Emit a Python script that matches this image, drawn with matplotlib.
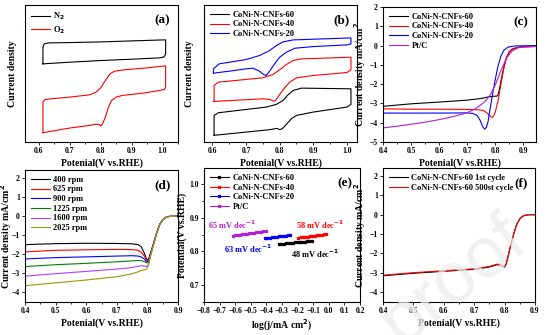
import matplotlib
matplotlib.use("Agg")
import matplotlib.pyplot as plt
from matplotlib.ticker import MultipleLocator

plt.rcParams["font.family"] = ["Liberation Serif", "DejaVu Serif"]
plt.rcParams["font.weight"] = "bold"
plt.rcParams["axes.labelweight"] = "bold"
plt.rcParams["axes.linewidth"] = 0.8

W, H = 553, 335

# ---- (a) CV in N2 / O2 (arbitrary current units) ----
a_n2_x = [0.613, 0.613, 0.617, 0.63, 0.70, 0.80, 0.90, 1.00, 1.01, 1.01, 1.005, 0.99, 0.90, 0.80, 0.70, 0.613]
a_n2_y = [2.35, 2.85, 2.95, 2.98, 2.99, 3.01, 3.04, 3.07, 3.07, 2.65, 2.56, 2.53, 2.49, 2.45, 2.40, 2.35]
a_o2_x = [0.613, 0.613, 0.62, 0.64, 0.70, 0.765, 0.785, 0.80, 0.815, 0.83, 0.845, 0.875, 0.95, 1.01,
          1.01, 1.005, 0.99, 0.945, 0.87, 0.85, 0.835, 0.825, 0.815, 0.806, 0.80, 0.795, 0.78, 0.765, 0.70, 0.613]
a_o2_y = [0.28, 1.20, 1.28, 1.30, 1.35, 1.42, 1.50, 1.63, 1.85, 2.05, 2.13, 2.17, 2.23, 2.29,
          1.63, 1.58, 1.55, 1.48, 1.40, 1.35, 1.25, 1.05, 0.75, 0.55, 0.48, 0.53, 0.53, 0.50, 0.42, 0.28]

# ---- (b) CV of the three catalysts ----
b60_x = [0.605, 0.605, 0.618, 0.76, 0.79, 0.81, 0.825, 0.84, 0.865, 1.012,
         1.012, 1.0, 0.90, 0.85, 0.835, 0.82, 0.808, 0.80, 0.792, 0.77, 0.605]
b60_y = [0.20, 0.80, 0.88, 1.05, 1.13, 1.25, 1.42, 1.55, 1.62, 1.60,
         1.13, 1.05, 0.90, 0.80, 0.70, 0.53, 0.40, 0.37, 0.41, 0.37, 0.20]
b40_x = [0.605, 0.605, 0.618, 0.75, 0.78, 0.80, 0.82, 0.84, 0.865, 1.012,
         1.012, 1.0, 0.90, 0.85, 0.83, 0.815, 0.80, 0.788, 0.782, 0.77, 0.75, 0.605]
b40_y = [1.22, 1.70, 1.80, 1.93, 2.03, 2.17, 2.33, 2.45, 2.50, 2.55,
         2.17, 2.09, 2.00, 1.93, 1.80, 1.63, 1.43, 1.25, 1.23, 1.28, 1.30, 1.22]
b20_x = [0.603, 0.603, 0.62, 0.70, 0.74, 0.77, 0.79, 0.81, 0.84, 1.012,
         1.012, 1.0, 0.90, 0.845, 0.82, 0.80, 0.785, 0.77, 0.76, 0.752, 0.74, 0.72, 0.70, 0.65, 0.603]
b20_y = [2.07, 2.20, 2.35, 2.48, 2.60, 2.75, 2.90, 3.01, 3.07, 3.13,
         2.95, 2.92, 2.87, 2.82, 2.70, 2.55, 2.35, 2.13, 2.00, 2.03, 2.13, 2.22, 2.20, 2.13, 2.07]

# ---- (c) LSV, 1600 rpm ----
c60_x = [0.40, 0.50, 0.60, 0.70, 0.75, 0.78, 0.80, 0.805, 0.81, 0.815, 0.82, 0.83, 0.84, 0.85, 0.86, 0.88, 0.90, 0.945]
c60_y = [-3.15, -3.02, -2.93, -2.83, -2.74, -2.65, -2.62, -2.63, -2.55, -2.25, -1.85, -1.15, -0.60, -0.32, -0.18, -0.09, -0.06, -0.04]
c40_x = [0.40, 0.50, 0.60, 0.70, 0.74, 0.76, 0.775, 0.785, 0.79, 0.795, 0.80, 0.81, 0.82, 0.83, 0.84, 0.85, 0.86, 0.88, 0.90, 0.945]
c40_y = [-3.28, -3.30, -3.30, -3.31, -3.33, -3.38, -3.55, -3.70, -3.72, -3.62, -3.45, -2.85, -2.00, -1.20, -0.62, -0.33, -0.20, -0.10, -0.07, -0.05]
c20_x = [0.40, 0.50, 0.60, 0.70, 0.72, 0.735, 0.745, 0.755, 0.762, 0.768, 0.775, 0.78, 0.79, 0.80, 0.81, 0.82, 0.83, 0.845, 0.87, 0.945]
c20_y = [-3.50, -3.50, -3.50, -3.49, -3.52, -3.62, -3.85, -4.20, -4.33, -4.25, -3.90, -3.40, -2.55, -1.75, -1.05, -0.55, -0.25, -0.08, -0.02, 0.0]
cpt_x = [0.40, 0.45, 0.50, 0.55, 0.60, 0.65, 0.70, 0.73, 0.76, 0.78, 0.80, 0.82, 0.84, 0.86, 0.88, 0.90, 0.945]
cpt_y = [-4.27, -4.18, -4.08, -3.97, -3.84, -3.68, -3.48, -3.27, -2.95, -2.60, -2.05, -1.30, -0.65, -0.28, -0.12, -0.07, -0.04]

# ---- (d) LSV of CoNi-N-CNFs-60 at different rotation speeds ----
d_x = [0.40, 0.50, 0.60, 0.70, 0.75, 0.77, 0.78, 0.79, 0.797, 0.803, 0.81, 0.82, 0.83, 0.84, 0.85, 0.86, 0.87, 0.88, 0.90]
d_rpm = ["400 rpm", "625 rpm", "900 rpm", "1225 rpm", "1600 rpm", "2025 rpm"]
d_y = [
    [-1.50, -1.45, -1.43, -1.44, -1.46, -1.50, -1.62, -1.95, -2.25, -2.30, -1.95, -1.45, -0.90, -0.45, -0.20, -0.08, -0.03, -0.02, -0.02],
    [-1.88, -1.80, -1.77, -1.75, -1.76, -1.80, -1.90, -2.10, -2.30, -2.35, -1.97, -1.46, -0.90, -0.45, -0.20, -0.08, -0.03, -0.02, -0.02],
    [-2.25, -2.18, -2.14, -2.10, -2.08, -2.10, -2.15, -2.25, -2.38, -2.40, -2.00, -1.47, -0.91, -0.45, -0.20, -0.08, -0.03, -0.02, -0.02],
    [-2.65, -2.55, -2.48, -2.40, -2.35, -2.33, -2.34, -2.38, -2.45, -2.45, -2.03, -1.48, -0.91, -0.45, -0.20, -0.08, -0.03, -0.02, -0.02],
    [-3.15, -3.02, -2.90, -2.78, -2.70, -2.63, -2.60, -2.62, -2.66, -2.55, -2.08, -1.50, -0.92, -0.46, -0.20, -0.08, -0.03, -0.02, -0.02],
    [-3.65, -3.50, -3.35, -3.18, -3.02, -2.92, -2.85, -2.82, -2.78, -2.62, -2.12, -1.52, -0.93, -0.46, -0.20, -0.08, -0.03, -0.02, -0.02],
]
d_colors = ["black", "red", "blue", "green", "#b040ff", "#999900"]

# ---- (e) Tafel plots ----
e60_x = [-0.32, -0.305, -0.29, -0.275, -0.26, -0.245, -0.23, -0.215, -0.20, -0.185, -0.17, -0.155, -0.14, -0.125, -0.11]
e60_y = [0.8220, 0.8226, 0.8233, 0.8240, 0.8247, 0.8254, 0.8261, 0.8268, 0.8275, 0.8282, 0.8289, 0.8296, 0.8303, 0.8310, 0.8317]
e40_x = [-0.195, -0.18, -0.165, -0.15, -0.135, -0.12, -0.105, -0.09, -0.075, -0.06, -0.045, -0.03, -0.02]
e40_y = [0.8410, 0.8419, 0.8428, 0.8436, 0.8445, 0.8454, 0.8463, 0.8471, 0.8480, 0.8489, 0.8497, 0.8506, 0.8512]
e20_x = [-0.41, -0.395, -0.38, -0.365, -0.35, -0.335, -0.32, -0.305, -0.29, -0.275, -0.26, -0.25]
e20_y = [0.8390, 0.8399, 0.8409, 0.8418, 0.8428, 0.8437, 0.8447, 0.8456, 0.8466, 0.8475, 0.8485, 0.8491]
ept_x = [-0.615, -0.60, -0.585, -0.57, -0.555, -0.54, -0.525, -0.51, -0.495, -0.48, -0.465, -0.45, -0.435, -0.42, -0.405]
ept_y = [0.8470, 0.8480, 0.8490, 0.8500, 0.8510, 0.8519, 0.8529, 0.8539, 0.8549, 0.8558, 0.8568, 0.8578, 0.8588, 0.8597, 0.8607]
e_slopes = ["65 mV dec$^{-1}$", "58 mV dec$^{-1}$", "63 mV dec$^{-1}$", "48 mV dec$^{-1}$"]

# ---- (f) stability, 1st vs 500th cycle ----
f_x = [0.40, 0.50, 0.60, 0.70, 0.75, 0.775, 0.785, 0.795, 0.80, 0.805, 0.81, 0.82, 0.83, 0.84, 0.85, 0.86, 0.87, 0.88, 0.90]
f_first = [-3.15, -3.02, -2.92, -2.82, -2.70, -2.58, -2.60, -2.68, -2.70, -2.55, -2.25, -1.60, -1.00, -0.50, -0.22, -0.08, -0.03, -0.01, -0.01]
f_500 = [-3.12, -2.99, -2.89, -2.79, -2.67, -2.55, -2.57, -2.66, -2.68, -2.53, -2.23, -1.58, -0.98, -0.49, -0.21, -0.07, -0.02, 0.0, 0.0]

TICK = 5.5
LAB = 7
LEG = 6


def px_axes(fig, l, t, r, b):
    return fig.add_axes([l / W, 1 - b / H, (r - l) / W, (b - t) / H])


def style(ax, tag, ylabel, ylab_x, xlabel="Potenial(V vs.RHE)"):
    ax.tick_params(which="both", direction="out", labelsize=TICK, width=0.6, pad=1.5)
    ax.tick_params(which="major", length=2.2)
    ax.tick_params(which="minor", length=1.3)
    ax.set_xlabel(xlabel, fontsize=LAB, labelpad=2)
    ax.set_ylabel(ylabel, fontsize=LAB)
    ax.yaxis.set_label_coords(ylab_x, 0.5)
    ax.text(0.95, 0.93, tag, transform=ax.transAxes, ha="right", va="top",
            fontsize=9.5, fontweight="bold")


def legend(ax):
    return ax.legend(loc="upper left", fontsize=LEG, frameon=False, handlelength=2.3,
                     handletextpad=0.4, labelspacing=0.2, borderaxespad=0.3)


fig = plt.figure(figsize=(W / 100, H / 100), dpi=100)

# (a)
ax = px_axes(fig, 25, 5, 178, 142)
ax.plot(a_n2_x, a_n2_y, color="black", lw=0.8, label="N$_2$")
ax.plot(a_o2_x, a_o2_y, color="red", lw=0.8, label="O$_2$")
ax.set_xlim(0.555, 1.05)
ax.set_ylim(0, 4.12)
ax.set_yticks([])
ax.xaxis.set_major_locator(MultipleLocator(0.1))
ax.xaxis.set_minor_locator(MultipleLocator(0.05))
style(ax, "(a)", "Current density", -0.05)
legend(ax)

# (b)
ax = px_axes(fig, 204, 5, 357, 142)
ax.plot(b60_x, b60_y, color="black", lw=0.8, label="CoNi-N-CNFs-60")
ax.plot(b40_x, b40_y, color="red", lw=0.8, label="CoNi-N-CNFs-40")
ax.plot(b20_x, b20_y, color="blue", lw=0.8, label="CoNi-N-CNFs-20")
ax.set_xlim(0.575, 1.03)
ax.set_ylim(0, 4.12)
ax.set_yticks([])
ax.xaxis.set_major_locator(MultipleLocator(0.1))
ax.xaxis.set_minor_locator(MultipleLocator(0.05))
style(ax, "(b)", "Current density", -0.065)
legend(ax)

# (c)
ax = px_axes(fig, 383, 7, 536, 142)
ax.plot(c60_x, c60_y, color="black", lw=0.8, label="CoNi-N-CNFs-60")
ax.plot(c40_x, c40_y, color="red", lw=0.8, label="CoNi-N-CNFs-40")
ax.plot(c20_x, c20_y, color="blue", lw=0.8, label="CoNi-N-CNFs-20")
ax.plot(cpt_x, cpt_y, color="#b020d0", lw=0.8, label="Pt/C")
ax.set_xlim(0.4, 0.945)
ax.set_ylim(-5, 2)
ax.xaxis.set_major_locator(MultipleLocator(0.1))
ax.xaxis.set_minor_locator(MultipleLocator(0.05))
ax.yaxis.set_major_locator(MultipleLocator(1))
style(ax, "(c)", "Current density mA/cm$^2$", -0.1)
legend(ax)

# (d)
ax = px_axes(fig, 25, 170, 178, 302)
for name, ys, col in zip(d_rpm, d_y, d_colors):
    ax.plot(d_x, ys, color=col, lw=0.8, label=name)
ax.set_xlim(0.4, 0.9)
ax.set_ylim(-4.5, 2.4)
ax.xaxis.set_major_locator(MultipleLocator(0.1))
ax.xaxis.set_minor_locator(MultipleLocator(0.05))
ax.yaxis.set_major_locator(MultipleLocator(1))
style(ax, "(d)", "Current density mA/cm$^2$", -0.07)
legend(ax)

# (e)
ax = px_axes(fig, 204, 168, 360, 302)
mk = dict(marker="s", ms=1.4, lw=0.8)
ax.plot(e60_x, e60_y, color="black", label="CoNi-N-CNFs-60", **mk)
ax.plot(e40_x, e40_y, color="red", label="CoNi-N-CNFs-40", **mk)
ax.plot(e20_x, e20_y, color="blue", label="CoNi-N-CNFs-20", **mk)
ax.plot(ept_x, ept_y, color="#b020d0", label="Pt/C", **mk)
ax.set_xlim(-0.8, 0.2)
ax.set_ylim(0.65, 1.048)
ax.xaxis.set_major_locator(MultipleLocator(0.1))
ax.yaxis.set_major_locator(MultipleLocator(0.1))
ax.yaxis.set_minor_locator(MultipleLocator(0.05))
ax.text(-0.775, 0.879, e_slopes[0], color="#b020d0", fontsize=6, va="center")
ax.text(-0.21, 0.879, e_slopes[1], color="red", fontsize=6, va="center")
ax.text(-0.67, 0.809, e_slopes[2], color="blue", fontsize=6, va="center")
ax.text(-0.24, 0.794, e_slopes[3], color="black", fontsize=6, va="center")
style(ax, "(e)", "Potential(V vs.RHE)", -0.11, xlabel="log(j/mA cm$^2$)")
legend(ax)

# (f)
ax = px_axes(fig, 383, 168, 535, 302)
ax.plot(f_x, f_first, color="black", lw=0.8, label="CoNi-N-CNFs-60 1st cycle")
ax.plot(f_x, f_500, color="red", lw=0.8, label="CoNi-N-CNFs-60 500st cycle")
ax.set_xlim(0.4, 0.9)
ax.set_ylim(-4.5, 2.4)
ax.xaxis.set_major_locator(MultipleLocator(0.1))
ax.xaxis.set_minor_locator(MultipleLocator(0.05))
ax.yaxis.set_major_locator(MultipleLocator(1))
style(ax, "(f)", "Current density mA/cm$^2$", -0.1)
legend(ax)

# journal watermark
fig.text(0.82, 0.16, "proof", fontsize=52, color="#ececec", rotation=38,
         ha="center", va="center", fontweight="normal", family="Liberation Sans",
         alpha=0.75, zorder=10)

fig.savefig("out.png", dpi=100)
